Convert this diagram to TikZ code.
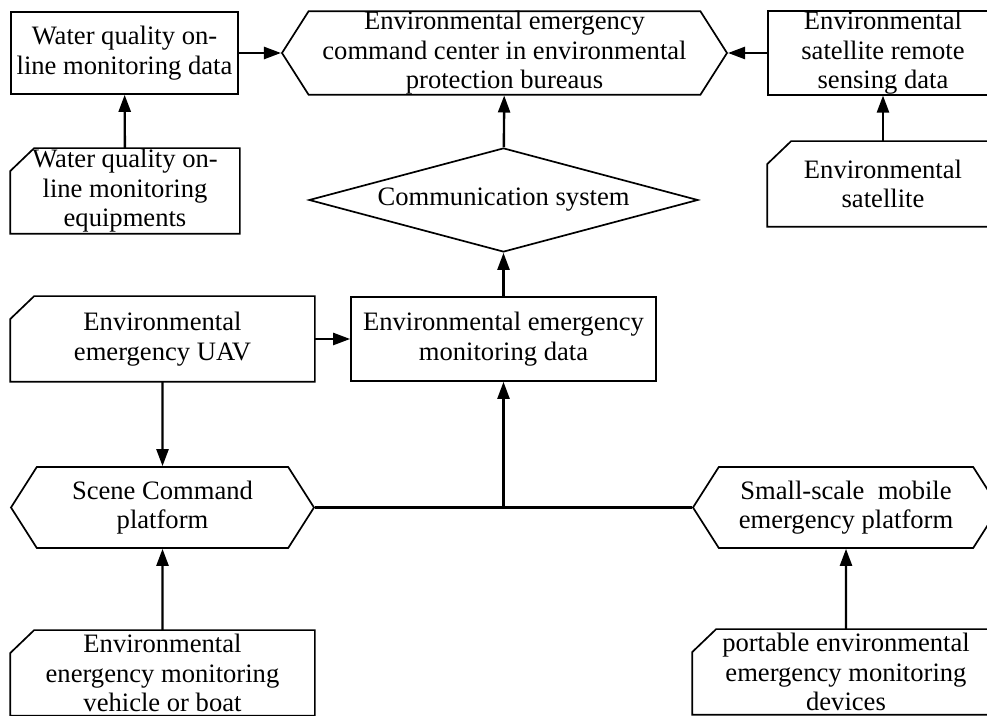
\documentclass[tikz,border=0pt]{standalone}
\usepackage{fontspec}
\setmainfont{Liberation Serif}
\usetikzlibrary{shapes.geometric,shapes.symbols,arrows.meta}

\begin{document}
\begin{tikzpicture}[x=0.5pt,y=-0.5pt,
    blk/.style={draw, line width=0.85pt, inner sep=0pt, align=center,
        font=\fontsize{13.3}{14.8}\selectfont},
    databox/.style={blk, rectangle},
    source/.style={blk, rectangle, draw=none},
    platform/.style={blk, signal, signal to=west and east, signal pointer angle=115},
    flow/.style={line width=1.2pt, -{Triangle[length=8.5pt,width=6pt]}}]

    \useasboundingbox (0,0) rectangle (987,716);
    \clip (0,0) rectangle (987,716);

    % Top row
    \node[databox, minimum width=113.5pt, minimum height=41pt] (wqdata) at (124.5,53)
        {Water quality on-\\line monitoring data};
    \node[platform, minimum width=222.5pt, minimum height=41pt] (center) at (504.5,53)
        {Environmental emergency\\command center in environmental\\protection bureaus};
    \node[databox, minimum width=115pt, minimum height=41pt] (satdata) at (883,53)
        {Environmental\\satellite remote\\sensing data};

    % Second row
    \node[source, minimum width=114pt, minimum height=42pt] (wqdev) at (125,191)
        {Water quality on-\\line monitoring\\equipments};
    \node[blk, diamond, aspect=3.74, minimum width=194.5pt, minimum height=52pt] (comm) at (503.5,200)
        {Communication system};
    \node[source, minimum width=115pt, minimum height=42pt] (sat) at (883,184)
        {Environmental\\satellite};

    % Third row
    \node[source, minimum width=151.5pt, minimum height=42pt] (uav) at (162.5,339)
        {Environmental\\emergency UAV};
    \node[databox, minimum width=152.5pt, minimum height=42pt] (mon) at (503.5,339)
        {Environmental emergency\\monitoring data};

    % Platforms
    \node[platform, minimum width=151.5pt, minimum height=40.5pt] (scene) at (162.5,507.5)
        {Scene Command\\platform};
    \node[platform, minimum width=153pt, minimum height=40.5pt] (mobile) at (846,507.5)
        {Small-scale\ \ mobile\\emergency platform};

    % Bottom row
    \node[source, minimum width=151.5pt, minimum height=42pt] (vehicle) at (162.5,673)
        {Environmental\\energency monitoring\\vehicle or boat};
    \node[source, minimum width=153pt, minimum height=42pt] (portable) at (846,672)
        {portable environmental\\emergency monitoring\\devices};

    % Cut-corner outlines of the sources
    \foreach \n in {wqdev,sat,uav,vehicle,portable}
        \draw[line width=0.85pt] ([yshift=-11.5pt]\n.north west) -- ([xshift=12pt]\n.north west)
            -- (\n.north east) -- (\n.south east) -- (\n.south west) -- cycle;

    % Links
    \draw[flow] (wqdata) -- (center.west);
    \draw[flow] (satdata) -- (center.east);
    \draw[flow] (wqdev) -- (wqdata);
    \draw[flow] (sat) -- (satdata);
    \draw[flow] (comm) -- (center);
    \draw[flow] (mon) -- (comm);
    \draw[flow] (uav) -- (mon);
    \draw[flow] (uav) -- (scene);
    \draw[flow] (vehicle) -- (scene);
    \draw[flow] (portable) -- (mobile);

    \coordinate (hub) at (mon.south |- scene.east);
    \draw[line width=1.2pt] (scene.east) -- (mobile.west);
    \draw[flow] (hub) -- (mon);
\end{tikzpicture}
\end{document}
